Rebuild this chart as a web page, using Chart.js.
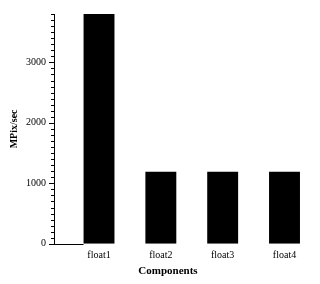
<!DOCTYPE html>
<html>
<head>
<meta charset="utf-8">
<script src="https://cdn.jsdelivr.net/npm/chart.js@4/dist/chart.umd.min.js"></script>
<style>
  html, body { margin: 0; padding: 0; background: #fff; }
  #wrap { width: 320px; height: 284px; }
</style>
</head>
<body>
<div id="wrap"><canvas id="myChart" width="320" height="284"></canvas></div>
<script>
// --- Data ---
const components = ["float1", "float2", "float3", "float4"];
const mpixPerSec = [3800, 1190, 1190, 1190];
const yMajorTicks = [0, 1000, 2000, 3000];

// bars sit at x = 1..4 on a linear axis
const barPoints = components.map((c, i) => ({ x: i + 1, y: mpixPerSec[i] }));

// --- Axis ticks + short baseline (minor every 100, major every 1000) ---
const axisTicks = {
  id: 'axisTicks',
  afterDraw(chart) {
    const ctx = chart.ctx;
    const y = chart.scales.y;
    const left = chart.chartArea.left;
    ctx.save();
    ctx.strokeStyle = '#000';
    ctx.lineWidth = 1;
    ctx.beginPath();
    y.ticks.forEach(t => {
      const py = Math.round(y.getPixelForValue(t.value)) + 0.5;
      const len = yMajorTicks.includes(t.value) ? 5 : 3;
      ctx.moveTo(left - len, py);
      ctx.lineTo(left, py);
    });
    // baseline runs from the axis to the first bar
    const firstBar = chart.getDatasetMeta(0).data[0];
    const py0 = Math.round(y.getPixelForValue(0)) + 0.5;
    ctx.moveTo(left, py0);
    ctx.lineTo(firstBar.x - firstBar.width / 2, py0);
    ctx.stroke();
    ctx.restore();
  }
};

const ctx = document.getElementById('myChart').getContext('2d');
new Chart(ctx, {
  type: 'bar',
  data: {
    datasets: [{
      data: barPoints,
      backgroundColor: '#000',
      borderWidth: 0,
      barPercentage: 0.5,
      categoryPercentage: 1.0
    }]
  },
  options: {
    responsive: false,
    animation: false,
    layout: { padding: { top: 12, left: 16, right: 0, bottom: 6 } },
    plugins: {
      legend: { display: false },
      tooltip: { enabled: false },
      title: {
        display: true,
        position: 'bottom',
        text: 'Components',
        color: '#000',
        font: { family: 'Liberation Serif', size: 11, weight: 'bold' },
        padding: { top: -3, bottom: 0 }
      }
    },
    scales: {
      x: {
        type: 'linear',
        offset: false,
        min: 0.272,
        max: 4.574,
        grid: { display: false, drawTicks: false },
        border: { display: false },
        ticks: {
          stepSize: 1,
          includeBounds: false,
          padding: 6,
          color: '#000',
          font: { family: 'Liberation Serif', size: 10 },
          callback: v => Number.isInteger(v) && v >= 1 && v <= components.length ? components[v - 1] : ''
        }
      },
      y: {
        min: 0,
        max: 3800,
        afterFit(scale) { scale.width = 38; },
        grid: { display: false, drawTicks: false },
        border: { display: true, color: '#000', width: 1 },
        title: {
          display: true,
          text: 'MPix/sec',
          color: '#000',
          font: { family: 'Liberation Serif', size: 10, weight: 'bold' },
          padding: { top: -8, bottom: 0 }
        },
        ticks: {
          stepSize: 100,
          autoSkip: false,
          padding: 8,
          color: '#000',
          font: { family: 'Liberation Serif', size: 10 },
          callback: v => yMajorTicks.includes(v) ? String(v) : ''
        }
      }
    }
  },
  plugins: [axisTicks]
});
</script>
</body>
</html>
